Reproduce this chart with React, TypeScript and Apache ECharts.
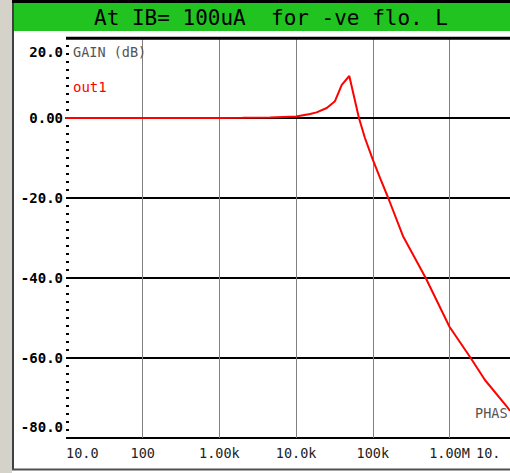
import React, { useEffect, useRef } from "react";
import * as echarts from "echarts";

// Frequency response: GAIN (dB) of out1 vs frequency (Hz)
const freqHz = [10, 100, 1000, 2000, 4600, 10000, 15200, 18500, 25100, 32100, 39400, 49400, 66000, 79000, 100000, 125000, 159000, 250000, 490000, 1000000, 1890000, 2900000, 5670000, 6150000];
const gainDb = [0, 0, 0.02, 0.05, 0.1, 0.35, 1.0, 1.4, 2.5, 4.2, 8.3, 10.5, 0, -5, -10.4, -15.1, -20, -29.7, -40, -52.2, -60, -65.5, -72.3, -73.2];

const xTickValues = [10, 100, 1000, 10000, 100000, 1000000];
const xTickLabels = ["10.0", "100", "1.00k", "10.0k", "100k", "1.00M"];
const yTickValues = [-80, -60, -40, -20, 0, 20];
const yTickLabels = ["-80.0", "-60.0", "-40.0", "-20.0", "0.00", "20.0"];

const titleText = "At IB= 100uA  for -ve flo. L";
const yTitle = "GAIN (dB)";
const seriesName = "out1";
const clippedRightTitle = "PHAS";
const clippedXLabel = "10.";

const MONO = "'DejaVu Sans Mono', 'Liberation Mono', monospace";

export default function App() {
  const ref = useRef<HTMLDivElement>(null);
  useEffect(() => {
    if (!ref.current) return;
    const chart = echarts.init(ref.current, null, { renderer: "svg" });
    const data = freqHz.map((f, i) => [f, gainDb[i]]);
    const yLabelFont = { fontFamily: MONO, fontSize: 14, fontWeight: "bold" as const, color: "#000" };
    chart.setOption({
      animation: false,
      backgroundColor: "#ffffff",
      grid: { left: 66, right: 0, top: 38, bottom: 35, containLabel: false },
      xAxis: {
        type: "log",
        logBase: 10,
        min: 10,
        max: 6150000,
        splitNumber: 6,
        axisLine: { show: true, lineStyle: { color: "#000", width: 2 } },
        axisTick: { show: false },
        axisLabel: {
          margin: 8,
          fontFamily: MONO,
          fontSize: 13.5,
          color: "#222",
          alignMinLabel: "left",
          showMaxLabel: false,
          formatter: (v: number) => {
            const i = xTickValues.findIndex((t) => Math.abs(Math.log10(t) - Math.log10(v)) < 1e-6);
            return i >= 0 ? xTickLabels[i] : "";
          },
        },
        splitLine: { show: true, showMinLine: false, showMaxLine: false, lineStyle: { color: "#808080", width: 1 } },
      },
      yAxis: {
        type: "value",
        min: -80,
        max: 20,
        interval: 20,
        axisLine: { show: false },
        axisTick: { show: true, inside: true, length: 3, lineStyle: { color: "#000", width: 2 } },
        minorTick: { show: true, splitNumber: 10, length: 3, lineStyle: { color: "#000", width: 2 } },
        axisLabel: {
          margin: 3,
          ...yLabelFont,
          verticalAlignMinLabel: "bottom",
          verticalAlignMaxLabel: "top",
          rich: {
            top: { ...yLabelFont, padding: [7, 0, 0, 0] },
            bot: { ...yLabelFont, padding: [0, 0, 4, 0] },
          },
          formatter: (v: number) => {
            const r = Math.round(v);
            const i = yTickValues.indexOf(r);
            if (i < 0) return "";
            if (r === 20) return `{top|${yTickLabels[i]}}`;
            if (r === -80) return `{bot|${yTickLabels[i]}}`;
            return yTickLabels[i];
          },
        },
        splitLine: { show: true, lineStyle: { color: "#000", width: 2 } },
      },
      series: [
        {
          name: seriesName,
          type: "line",
          data,
          showSymbol: false,
          symbol: "none",
          lineStyle: { color: "#ff0000", width: 2 },
          clip: true,
          z: 5,
        },
      ],
      graphic: [
        { type: "rect", shape: { x: 0, y: 0, width: 12, height: 473 }, style: { fill: "#d5d2c9" }, silent: true },
        { type: "line", shape: { x1: 13, y1: 0, x2: 13, y2: 470 }, style: { stroke: "#404040", lineWidth: 2 }, silent: true },
        { type: "line", shape: { x1: 12, y1: 1.5, x2: 510, y2: 1.5 }, style: { stroke: "#000", lineWidth: 3 }, silent: true },
        { type: "rect", shape: { x: 14, y: 3, width: 496, height: 28 }, style: { fill: "#21c321" }, silent: true },
        { type: "line", shape: { x1: 12, y1: 469.5, x2: 510, y2: 469.5 }, style: { stroke: "#505050", lineWidth: 2 }, silent: true },
        { type: "line", shape: { x1: 66, y1: 38.3, x2: 510, y2: 38.3 }, style: { stroke: "#000", lineWidth: 3 }, silent: true, z: 10 },
        {
          type: "text",
          x: 271,
          y: 18,
          style: { text: titleText, fill: "#000", font: `21px ${MONO}`, align: "center", verticalAlign: "middle" },
          silent: true,
        },
        {
          type: "text",
          x: 73,
          y: 51.5,
          style: { text: yTitle, fill: "#555", font: `13.5px ${MONO}`, align: "left", verticalAlign: "middle" },
          silent: true,
          z: 10,
        },
        {
          type: "text",
          x: 73,
          y: 86.5,
          style: { text: seriesName, fill: "#ff0000", font: `14px ${MONO}`, align: "left", verticalAlign: "middle" },
          silent: true,
          z: 10,
        },
        {
          type: "text",
          x: 475,
          y: 412.5,
          style: { text: clippedRightTitle, fill: "#555", font: `13.5px ${MONO}`, align: "left", verticalAlign: "middle" },
          silent: true,
          z: 10,
        },
        {
          type: "text",
          x: 476,
          y: 453,
          style: { text: clippedXLabel, fill: "#222", font: `13.5px ${MONO}`, align: "left", verticalAlign: "middle" },
          silent: true,
          z: 10,
        },
      ],
    });
    return () => chart.dispose();
  }, []);
  return <div ref={ref} style={{ position: "fixed", left: 0, top: 0, width: 510, height: 473 }} />;
}
